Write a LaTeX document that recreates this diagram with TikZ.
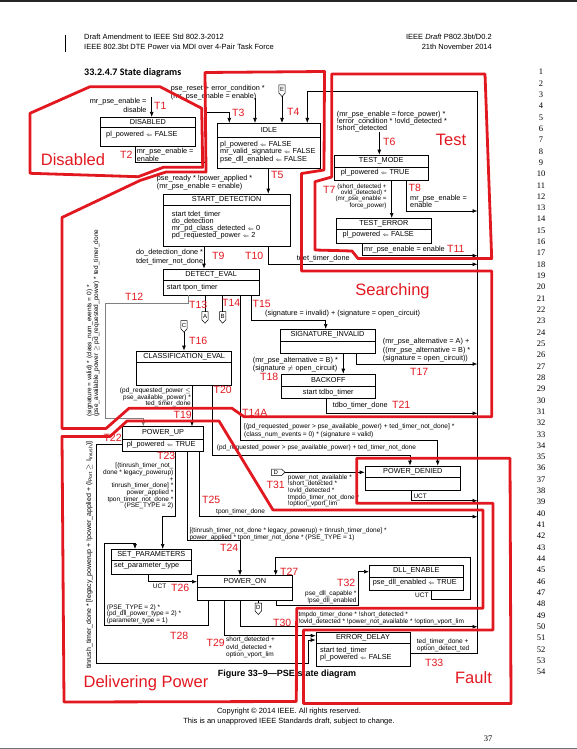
\documentclass[tikz,border=0pt]{standalone}
\usepackage{fontspec}
\setmainfont{Liberation Sans}
\newfontfamily\lnfont{Liberation Serif}
\newfontfamily\secfont{Carlito}
\usetikzlibrary{arrows.meta,fit}

\definecolor{annred}{RGB}{226,24,32}
\newcommand{\fs}[2]{\fontsize{#1}{#2}\selectfont}
\newcommand{\la}{\ensuremath{\scriptstyle\Leftarrow}}

\tikzset{
  every node/.style={inner sep=0pt},
  stbox/.style={draw, line width=0.6pt},
  ln/.style={line width=0.6pt},
  tr/.style={line width=0.6pt, -{Latex[length=5pt,width=3.8pt]}},
  lbl/.style={font=\fs{7.3}{8}},
  sml/.style={font=\fs{6.5}{6.7}},
  tlbl/.style={font=\fs{10.5}{12}, text=annred, anchor=west},
  zone/.style={font=\fs{16.5}{18}, text=annred},
  region/.style={draw=annred, line width=2.8pt, line join=round},
}

% state box: name, x1, y1, x2, y2, divider, title
\newcommand{\stbox}[7]{%
  \node[stbox, fit={(#2,#3) (#4,#5)}] (#1) {};
  \draw[ln] (#2,#6) -- (#4,#6);
  \path (#1.north) -- (#1.north |- 0,#6) node[midway, lbl] {#7};
}
% off-page connector: name, x, top, letter
\newcommand{\offpg}[4]{%
  \draw[line width=0.5pt] (#2-3.2,#3) -- (#2+3.2,#3) -- (#2+3.2,#3+8) -- (#2,#3+11.5) -- (#2-3.2,#3+8) -- cycle;
  \node[font=\fs{6}{6}] (#1) at (#2,#3+4.3) {#4};
  \coordinate (#1t) at (#2,#3);
  \coordinate (#1b) at (#2,#3+11.5);
}

\begin{document}
\begin{tikzpicture}[x=1pt,y=-1pt]
  \useasboundingbox (0,0) rectangle (577,749);
  \fill[black!85] (0,0) rectangle (577,1.6);
  \fill[black!55] (0,747.6) rectangle (577,749);

  % page header
  \node[font=\fs{7.5}{9}, anchor=west] (hdl1) at (84,37) {Draft Amendment to IEEE Std 802.3-2012};
  \node[font=\fs{7.5}{9}, anchor=west] (hdl2) at (84,47) {IEEE 802.3bt DTE Power via MDI over 4-Pair Task Force};
  \node[font=\fs{7.5}{9}, anchor=east] (hdr1) at (492,37) {IEEE \textit{Draft} P802.3bt/D0.2};
  \node[font=\fs{7.5}{9}, anchor=east] (hdr2) at (492,47) {21th November 2014};
  \draw[line width=1.6pt] (65.5,35) -- (65.5,52);
  \node[font=\secfont\bfseries\fs{10}{12}, anchor=west] (sect) at (84,72.5) {33.2.4.7 State diagrams};

  \foreach \n in {1,...,54}
    \node[font=\lnfont\fs{8.5}{9}] (ln\n) at (541,{72+(\n-1)*11.32}) {\n};

  % states
  \stbox{disabled}{100.7}{117.3}{195}{146.7}{127.7}{DISABLED}
  \stbox{idle}{217.3}{123.3}{320.7}{168.7}{137.3}{IDLE}
  \stbox{startdet}{163.3}{194}{290}{246.7}{205.7}{START\_DETECTION}
  \stbox{testmode}{334.3}{155}{428.3}{180}{167.3}{TEST\_MODE}
  \stbox{testerror}{336}{218.3}{431.7}{243.3}{229}{TEST\_ERROR}
  \stbox{detecteval}{163.3}{269}{259}{295}{280}{DETECT\_EVAL}
  \stbox{classeval}{136.7}{351}{231.7}{385}{362.7}{CLASSIFICATION\_EVAL}
  \stbox{siginvalid}{280}{329.3}{375}{353.3}{341}{SIGNATURE\_INVALID}
  \stbox{backoff}{281}{374}{375.7}{398.3}{386}{BACKOFF}
  \stbox{powerup}{122.7}{426.7}{203.3}{451.7}{439}{POWER\_UP}
  \stbox{powerdenied}{365}{466}{460.7}{490.7}{477.7}{POWER\_DENIED}
  \stbox{setparams}{111}{549.3}{191.7}{574.3}{560.7}{SET\_PARAMETERS}
  \stbox{poweron}{197.3}{575.7}{292.3}{600.7}{587.7}{POWER\_ON}
  \stbox{dllenable}{369.3}{565}{463.3}{590}{577.3}{DLL\_ENABLE}
  \stbox{errordelay}{316}{632.7}{410}{666}{643.3}{ERROR\_DELAY}

  \node[lbl, anchor=west] at (106,135) {pl\_powered \la{} FALSE};
  \node[lbl, font=\fs{7.3}{7.8}, align=left, anchor=north west] at (220,140.6) {pl\_powered \la{} FALSE\\mr\_valid\_signature \la{} FALSE\\pse\_dll\_enabled \la{} FALSE};
  \node[lbl, font=\fs{7.3}{7.25}, align=left, anchor=north west] at (171.7,210.6) {start tdet\_timer\\do\_detection\\mr\_pd\_class\_detected \la{} 0\\pd\_requested\_power \la{} 2};
  \node[lbl, anchor=west] at (340.7,172.3) {pl\_powered \la{} TRUE};
  \node[lbl, anchor=west] at (342.3,234.3) {pl\_powered \la{} FALSE};
  \node[lbl, anchor=west] at (166.7,287.3) {start tpon\_timer};
  \node[lbl] at (328.3,392.5) {start tdbo\_timer};
  \node[lbl, anchor=west] at (126.7,444.3) {pl\_powered \la{} TRUE};
  \node[lbl, anchor=west] at (114,566) {set\_parameter\_type};
  \node[lbl, anchor=west] at (372.7,582.3) {pse\_dll\_enabled \la{} TRUE};
  \node[lbl, font=\fs{7.3}{7.4}, align=left, anchor=north west] at (320,646.6) {start ted\_timer\\pl\_powered \la{} FALSE};

  % connectors
  \offpg{conE}{282}{85}{E}
  \offpg{conA}{205}{311.7}{A}
  \offpg{conB}{222.7}{311.7}{B}
  \offpg{conC}{184}{320.7}{C}
  \offpg{conD}{258.3}{603}{D}
  \draw[line width=0.5pt] (271.5,469) -- (281.5,469) -- (285,472.3) -- (281.5,475.6) -- (271.5,475.6) -- cycle;
  \node[font=\fs{6}{6}] (conDh) at (275.8,472.3) {D};
  \coordinate (conDhtip) at (285,472.3);

  \coordinate (busT) at (477.5,91.7);

  % T1, T2, T3
  \coordinate (t1s) at (151.7,96.7);
  \draw[tr] (t1s) -- (t1s |- disabled.north);
  \node[lbl, font=\fs{7.3}{8.6}, align=right, anchor=north east] at (146.7,98) {mr\_pse\_enable =\\disable};
  \node[tlbl] at (154,106) {T1};
  \draw[tr] (disabled.south -| 135,0) |- (206.7,162.7) |- (229.3,112.3) -- (idle.north -| 229.3,0);
  \node[lbl, align=left, anchor=north west] at (136.7,148.3) {mr\_pse\_enable =\\enable};
  \node[tlbl] at (120,155) {T2};
  \node[tlbl] at (232,113) {T3};
  \coordinate (rsts) at (255,98);
  \draw[tr] (rsts) -- (rsts |- idle.north);
  \node[lbl, align=left, anchor=north west] at (170.7,84.6) {pse\_reset + error\_condition *\\(mr\_pse\_enable = enable)};
  \draw[tr] (conEb) -- (conEb |- idle.north);
  \node[tlbl] at (287,112) {T4};

  % return bus to IDLE, T33
  \draw[tr] (errordelay.east |- 0,653.3) -- (477.5,653.3) -- (busT) -| (idle.north -| 307.3,0);
  \node[sml, font=\fs{6.6}{7.6}, align=left, anchor=north west] at (416.7,638.2) {ted\_timer\_done +\\option\_detect\_ted};
  \node[tlbl] at (425,663) {T33};

  % T5
  \draw[tr] (idle.south -| 268.3,0) -- (startdet.north -| 268.3,0);
  \node[lbl, align=left, anchor=north west] at (156.7,174.6) {pse\_ready * !power\_applied *\\(mr\_pse\_enable = enable)};
  \node[tlbl] at (271,175) {T5};

  % T6, T7, T8, T11
  \coordinate (t6s) at (379.3,131.7);
  \draw[tr] (t6s) -- (t6s |- testmode.north);
  \node[lbl, font=\fs{7.3}{7.2}, align=left, anchor=north west] at (336.7,110.6) {(mr\_pse\_enable = force\_power) *\\!error\_condition * !ovld\_detected *\\!short\_detected};
  \node[tlbl] at (383,142) {T6};
  \draw[tr] (testmode.south -| 391.7,0) -- (testerror.north -| 391.7,0);
  \node[sml, font=\fs{6.3}{6.4}, align=right, anchor=north east] at (386.7,183.3) {(short\_detected +\\ovld\_detected) *\\(mr\_pse\_enable =\\force\_power)};
  \node[tlbl] at (323,190) {T7};
  \draw[tr] (testmode.south -| 406.7,0) |- (busT |- 0,211);
  \node[lbl, font=\fs{7.3}{6.8}, align=left, anchor=north west] at (410,194.6) {mr\_pse\_enable =\\enable};
  \node[tlbl] at (408.5,188.3) {T8};
  \draw[tr] (testerror.south -| 362.7,0) |- (busT |- 0,255.7);
  \node[lbl, anchor=west] at (364,250) {mr\_pse\_enable = enable};
  \node[tlbl] at (447,249.3) {T11};

  % T9, T10
  \draw[tr] (startdet.south -| 204,0) -- (detecteval.north -| 204,0);
  \node[lbl, font=\fs{7.3}{9}, align=right, anchor=north east] at (203.3,249) {do\_detection\_done *\\tdet\_timer\_not\_done};
  \node[tlbl] at (212,256) {T9};
  \draw[tr] (startdet.south -| 268.3,0) |- (busT |- 0,264.3);
  \node[lbl, anchor=west] at (296.7,258.3) {tdet\_timer\_done};
  \node[tlbl] at (245,256) {T10};

  % T12
  \draw[tr, draw=black!50] (detecteval.south -| 188.3,0) |- (105,303.3) |- (143.3,418) -- (powerup.north -| 143.3,0);
  \node[sml, rotate=90, align=left, anchor=north west] at (86.5,417) {(signature = valid) * (class\_num\_events = 0) *\\(pse\_available\_power $\geq$ pd\_requested\_power) * ted\_timer\_done};
  \node[tlbl] at (125,297.3) {T12};

  % T13, T14, T16
  \draw[ln] (detecteval.south -| conAt) -- (conAt);
  \draw[ln] (detecteval.south -| conBt) -- (conBt);
  \node[tlbl] at (189,305) {T13};
  \node[tlbl] at (222,303.3) {T14};
  \draw[tr] (conCb) -- (classeval.north -| conCb);
  \node[tlbl] at (189,341) {T16};

  % T14A
  \draw[tr] (detecteval.south -| 240,0) |- (437.7,440) -- (powerdenied.north -| 437.7,0);
  \node[sml, font=\fs{6.6}{7.5}, align=left, anchor=north west] at (244,423.6) {[(pd\_requested\_power > pse\_available\_power) + ted\_timer\_not\_done] *\\(class\_num\_events = 0) * (signature = valid)};
  \node[tlbl] at (242,413.3) {T14A};

  % T15, T17, T18, T21
  \draw[tr] (detecteval.south -| 251.7,0) |- (325.7,320) -- (siginvalid.north -| 325.7,0);
  \node[lbl, anchor=west] at (265,313.3) {(signature = invalid) + (signature = open\_circuit)};
  \node[tlbl] at (252.5,304) {T15};
  \draw[tr] (siginvalid.south -| 356,0) |- (busT |- 0,364);
  \node[lbl, font=\fs{7.3}{8.6}, align=left, anchor=north west] at (382.7,338.3) {(mr\_pse\_alternative = A) +\\((mr\_pse\_alternative = B) *\\(signature = open\_circuit))};
  \node[tlbl] at (410,372) {T17};
  \draw[tr] (siginvalid.south -| 343.3,0) -- (backoff.north -| 343.3,0);
  \node[lbl, align=left, anchor=north west] at (252.7,356.6) {(mr\_pse\_alternative = B) *\\(signature $\neq$ open\_circuit)};
  \node[tlbl] at (260,377) {T18};
  \draw[tr] (backoff.south -| 326.7,0) |- (busT |- 0,413.3);
  \node[lbl, anchor=west] at (332.7,406) {tdbo\_timer\_done};
  \node[tlbl] at (392,405) {T21};

  % T19, T20
  \draw[tr] (classeval.south -| 192,0) -- (powerup.north -| 192,0);
  \node[sml, align=right, anchor=north east] at (191,387.5) {(pd\_requested\_power $\leq$\\pse\_available\_power) *\\ted\_timer\_done};
  \node[tlbl] at (173.5,414.5) {T19};
  \draw[tr] (classeval.south -| 212.7,0) |- (410,455) -- (powerdenied.north -| 410,0);
  \node[sml, anchor=west] at (216.7,448.3) {(pd\_requested\_power > pse\_available\_power) + ted\_timer\_not\_done};
  \node[tlbl] at (213.5,390) {T20};

  % T31, POWER_DENIED UCT
  \draw[tr] (conDhtip) -- (powerdenied.west |- conDhtip);
  \node[sml, font=\fs{6.5}{6.65}, align=left, anchor=north west] at (287.7,474.3) {power\_not\_available *\\!short\_detected *\\!ovld\_detected *\\tmpdo\_timer\_not\_done *\\!option\_vport\_lim};
  \node[tlbl] at (266.5,485) {T31};
  \draw[tr] (powerdenied.south -| 411.7,0) |- (busT |- 0,500.7);
  \node[sml, anchor=west] at (413.3,496) {UCT};

  % T22
  \draw[tr] (powerup.west |- 0,444.3) -| (96,663.3) -| (308,640) -- (errordelay.west |- 0,640);
  \node[sml, font=\fs{7}{7}, rotate=90, anchor=east] at (89.3,441) {tinrush\_timer\_done * [legacy\_powerup + !power\_applied + (I\textsubscript{Port} $\geq$ I\textsubscript{Inrush})]};
  \node[tlbl] at (103.3,438.3) {T22};

  % T23, T24, T25
  \draw[tr] (powerup.south -| 175,0) |- (162.7,516.7) -- (setparams.north -| 162.7,0);
  \node[sml, font=\fs{6.5}{6.67}, align=right, anchor=north east] at (173.5,463) {[(tinrush\_timer\_not\_\\done * legacy\_powerup)\\+\\tinrush\_timer\_done] *\\power\_applied *\\tpon\_timer\_not\_done *\\(PSE\_TYPE = 2)};
  \node[tlbl] at (157,456) {T23};
  \draw[tr] (powerup.south -| 187.7,0) |- (240,540) -- (poweron.north -| 240,0);
  \node[sml, align=left, anchor=north west] at (189.3,527.4) {[(tinrush\_timer\_not\_done * legacy\_powerup) + tinrush\_timer\_done] *\\power\_applied * tpon\_timer\_not\_done * (PSE\_TYPE = 1)};
  \node[tlbl] at (220,548.3) {T24};
  \draw[tr] (powerup.south -| 199.3,0) |- (busT |- 0,516.7);
  \node[sml, anchor=west] at (216,511.7) {tpon\_timer\_done};
  \node[tlbl] at (202,500) {T25};

  % T26, T27, T32
  \draw[tr] (setparams.south -| 148.3,0) |- (poweron.west |- 0,581.7);
  \node[sml, anchor=west] at (152.7,586) {UCT};
  \node[tlbl] at (171,588.3) {T26};
  \draw[tr] (dllenable.south -| 431.7,0) |- (470,599.3) |- (275.7,557.3) -- (poweron.north -| 275.7,0);
  \node[sml, anchor=west] at (415,595) {UCT};
  \node[tlbl] at (280,571.7) {T27};
  \draw[tr] (poweron.south -| 276.7,0) |- (358.3,605) |- (dllenable.west |- 0,571.7);
  \node[sml, align=right, anchor=north east] at (356.7,590.8) {pse\_dll\_capable *\\!pse\_dll\_enabled};
  \node[tlbl] at (337,583.3) {T32};
  \draw[ln] (poweron.south -| conDt) -- (conDt);

  % T28, T29, T30
  \draw[tr] (poweron.south -| 240,0) |- (busT |- 0,626.7);
  \node[sml, align=left, anchor=north west] at (298.3,611.6) {tmpdo\_timer\_done * !short\_detected *\\!ovld\_detected * !power\_not\_available * !option\_vport\_lim};
  \node[tlbl] at (273,623.3) {T30};
  \draw[tr] (poweron.south -| 224.3,0) |- (errordelay.west |- 0,635.7);
  \node[sml, font=\fs{6.5}{7.35}, align=left, anchor=north west] at (226,636.9) {short\_detected +\\ovld\_detected +\\option\_vport\_lim};
  \node[tlbl] at (206.5,643.3) {T29};
  \draw[tr] (poweron.south -| 208.3,0) |- (104.3,625) |- (135,543.3) -- (setparams.north -| 135,0);
  \node[sml, font=\fs{6.5}{6.65}, align=left, anchor=north west] at (106.7,604.2) {(PSE\_TYPE = 2) *\\(pd\_dll\_power\_type = 2) *\\(parameter\_type = 1)};
  \node[tlbl] at (170,635.7) {T28};

  % caption and footer
  \node[font=\bfseries\fs{9}{10}] (cap) at (287,674.5) {Figure 33--9---PSE state diagram};
  \node[font=\fs{7.5}{9}] (copy1) at (289,712) {Copyright \textcopyright{} 2014 IEEE. All rights reserved.};
  \node[font=\fs{7.5}{9}] (copy2) at (289,721.5) {This is an unapproved IEEE Standards draft, subject to change.};
  \node[font=\lnfont\fs{8.5}{9}] (pgno) at (488,739) {37};

  % annotation regions
  \draw[region] (30,113.3) -- (90,86.7) -- (160,86.7) -- (201.7,108.3) -- (202.7,167.3) -- (163.3,167.3) -- (138.3,176.7) -- (30,173.3) -- cycle;
  \node[zone] at (73,160) {Disabled};
  \draw[region] (205,72.5) -- (324.5,71.5) -- (324,170) -- (301.5,173.5) -- (301.5,271) -- (491.7,271) -- (491.7,416.7) -- (244,416.7) -- (232,408.3) -- (129,408.3) -- (106,428.5) -- (62,428.5) -- (62,217.5) -- (140,180.5) -- (166,172) -- (206,172) -- cycle;
  \node[zone] at (392.5,291.7) {Searching};
  \draw[region] (331.7,74) -- (485,74) -- (491.7,258.5) -- (358,258.5) -- (352,251) -- (315,250) -- (315,181.7) -- (331.7,177) -- cycle;
  \node[zone] at (451,140) {Test};
  \draw[region] (62,436.5) -- (110,436.5) -- (127,421) -- (219,421) -- (273,510) -- (483,510) -- (483,608.3) -- (296.7,608.3) -- (296.3,701.5) -- (64,702) -- cycle;
  \node[zone] at (146,683) {Delivering Power};
  \draw[region] (356.7,458.3) -- (510,458.3) -- (511,703.5) -- (303.6,703.5) -- (303.5,630) -- (493,630) -- (493,503.3) -- (356.7,503.3) -- cycle;
  \node[zone] at (473.5,678) {Fault};
\end{tikzpicture}
\end{document}
